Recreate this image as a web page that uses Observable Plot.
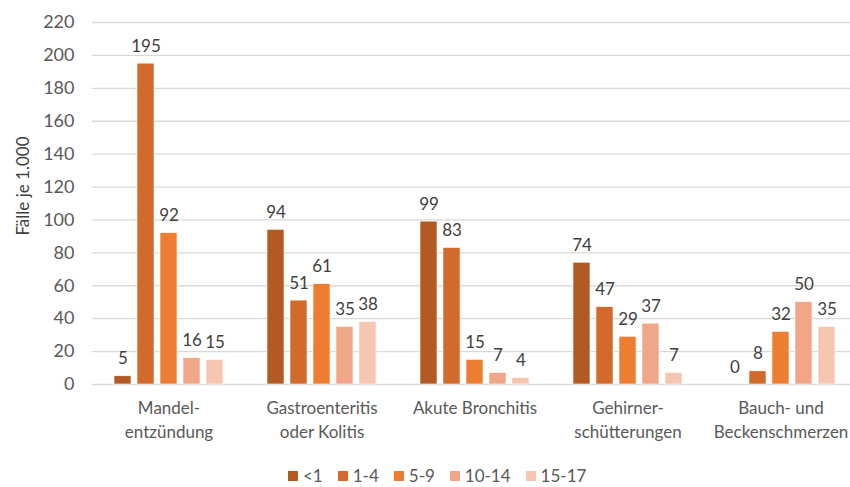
<!DOCTYPE html>
<html>
<head>
<meta charset="utf-8">
<script src="https://cdn.jsdelivr.net/npm/d3@7"></script>
<script src="https://cdn.jsdelivr.net/npm/@observablehq/plot@0.6"></script>
<style>
  html, body { margin: 0; padding: 0; background: #fff; overflow: hidden; }
  #wrap { position: relative; width: 850px; height: 487px; overflow: hidden; font-family: Lato, "Noto Sans", sans-serif; }
  #legend { position: absolute; left: 288px; top: 465px; display: flex; gap: 15px; font-size: 17px; color: #595959; line-height: 22px; }
  #legend .item { display: flex; align-items: center; gap: 5px; }
  #legend .sw { width: 10px; height: 10px; display: inline-block; }
  #ylabel { position: absolute; left: 22px; top: 186px; transform: translate(-50%, -50%) rotate(-90deg); white-space: nowrap; font-size: 17px; color: #404040; }
</style>
</head>
<body>
<div id="wrap">
  <div id="chart"></div>
  <div id="ylabel"></div>
  <div id="legend"></div>
</div>
<script>
const categories = ["Mandel-\nentzündung", "Gastroenteritis\noder Kolitis", "Akute Bronchitis", "Gehirner-\nschütterungen", "Bauch- und\nBeckenschmerzen"];
const ageGroups = ["<1", "1-4", "5-9", "10-14", "15-17"];
const colors = ["#b15a21", "#d16a2a", "#ed7d31", "#f1a688", "#f7c6b0"];
const valuesUnder1 = [5, 94, 99, 74, 0];
const values1to4 = [195, 51, 83, 47, 8];
const values5to9 = [92, 61, 15, 29, 32];
const values10to14 = [16, 35, 7, 37, 50];
const values15to17 = [15, 38, 4, 7, 35];
const yTicks = [0, 20, 40, 60, 80, 100, 120, 140, 160, 180, 200, 220];
const yLabel = "Fälle je 1.000";

const series = [valuesUnder1, values1to4, values5to9, values10to14, values15to17];
const data = [];
categories.forEach((c, i) => ageGroups.forEach((a, j) => data.push({cat: c, age: a, value: series[j][i]})));

const chart = Plot.plot({
  width: 857,
  height: 455,
  marginLeft: 92,
  marginRight: 0,
  marginTop: 22,
  marginBottom: 71,
  style: {fontFamily: "Lato, 'Noto Sans', sans-serif", fontSize: "17px", color: "#595959", maxWidth: "none", overflow: "visible"},
  fx: {domain: categories, padding: 0, label: null},
  x: {domain: ageGroups, paddingInner: 0.255, paddingOuter: 0.883, axis: null},
  y: {domain: [0, 220], ticks: yTicks, label: null},
  color: {domain: ageGroups, range: colors},
  marks: [
    Plot.ruleY(yTicks, {stroke: "#d9d9d9", strokeWidth: 1.3}),
    Plot.barY(data, {fx: "cat", x: "age", y: "value", fill: "age", stroke: "#ffffff", strokeWidth: 0.6}),
    Plot.text(data, {fx: "cat", x: "age", y: "value", text: d => String(d.value), lineAnchor: "bottom", dy: -12, fill: "#404040", fontSize: 17}),
    Plot.axisY(yTicks, {tickSize: 0, tickPadding: 18, label: null, fill: "#595959", fontSize: 18}),
    Plot.axisFx({anchor: "bottom", tickSize: 0, tickPadding: 13, label: null, lineHeight: 1.4, fill: "#595959", fontSize: 17, lineAnchor: "top"})
  ]
});
document.getElementById("chart").appendChild(chart);
document.getElementById("ylabel").textContent = yLabel;

const legend = document.getElementById("legend");
ageGroups.forEach((a, i) => {
  const item = document.createElement("div");
  item.className = "item";
  const sw = document.createElement("span");
  sw.className = "sw";
  sw.style.background = colors[i];
  const t = document.createElement("span");
  t.textContent = a;
  item.appendChild(sw);
  item.appendChild(t);
  legend.appendChild(item);
});
</script>
</body>
</html>
